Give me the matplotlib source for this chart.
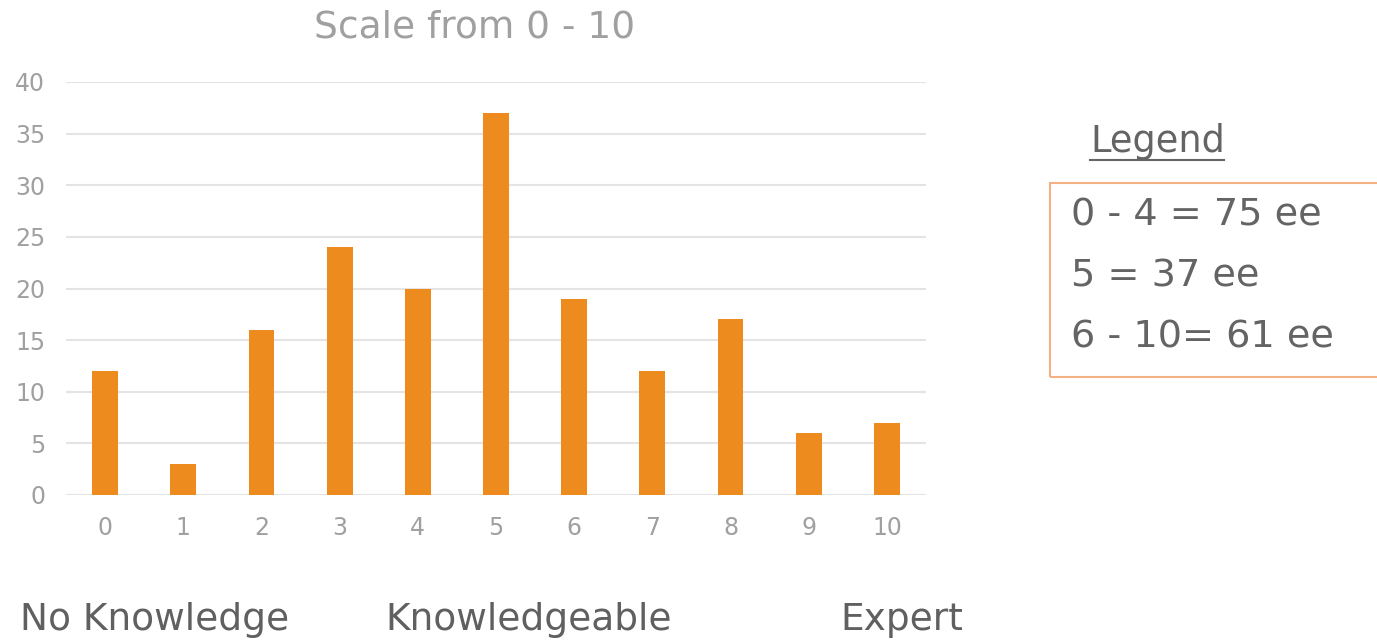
import matplotlib.pyplot as plt
from matplotlib.patches import Rectangle

# data
scores = list(range(11))
counts = [12, 3, 16, 24, 20, 37, 19, 12, 17, 6, 7]
y_ticks = [0, 5, 10, 15, 20, 25, 30, 35, 40]
scale_labels = ["No Knowledge", "Knowledgeable", "Expert"]
legend_lines = ["0 - 4 = 75 ee", "5 = 37 ee", "6 - 10= 61 ee"]

W, H = 1377, 641
fig = plt.figure(figsize=(W / 100, H / 100), dpi=100)
ax = fig.add_axes([66 / W, 1 - 495 / H, (926 - 66) / W, (495 - 82) / H])

ax.bar(scores, counts, width=0.33, color="#EE8B1F", zorder=3)
ax.set_xlim(-0.5, 10.5)
ax.set_ylim(0, 40)
ax.set_xticks(scores)
ax.set_yticks(y_ticks)
ax.grid(axis="y", color="#E4E4E4", linewidth=1.5, zorder=0)
for s in ax.spines.values():
    s.set_visible(False)
ax.tick_params(length=0, labelsize=17, labelcolor="#A0A0A0")
ax.tick_params(axis="y", pad=15)
ax.tick_params(axis="x", pad=15)

fig.text(475 / W, 1 - 27 / H, "Scale from 0 - 10", ha="center", va="center",
         fontsize=27, color="#A0A0A0")

# bottom scale descriptions
for x, lab in zip([20, 385, 840], scale_labels):
    fig.text(x / W, 1 - 620 / H, lab, ha="left", va="center",
             fontsize=27, color="#606060")

# hand-made legend
fig.text(1090 / W, 1 - 142 / H, "Legend", ha="left", va="center",
         fontsize=26.5, color="#646464")
fig.add_artist(plt.Line2D([1090 / W, 1224 / W], [1 - 160 / H, 1 - 160 / H],
                          color="#646464", linewidth=1.5))
fig.add_artist(Rectangle((1050 / W, 1 - 377 / H), 340 / W, (377 - 183) / H,
                         transform=fig.transFigure, fill=False,
                         edgecolor="#F4B183", linewidth=1.5))
for i, line in enumerate(legend_lines):
    fig.text(1071 / W, 1 - (215 + 61.5 * i) / H, line, ha="left", va="center",
             fontsize=27.5, color="#646464")

fig.savefig("out.png", dpi=100)
